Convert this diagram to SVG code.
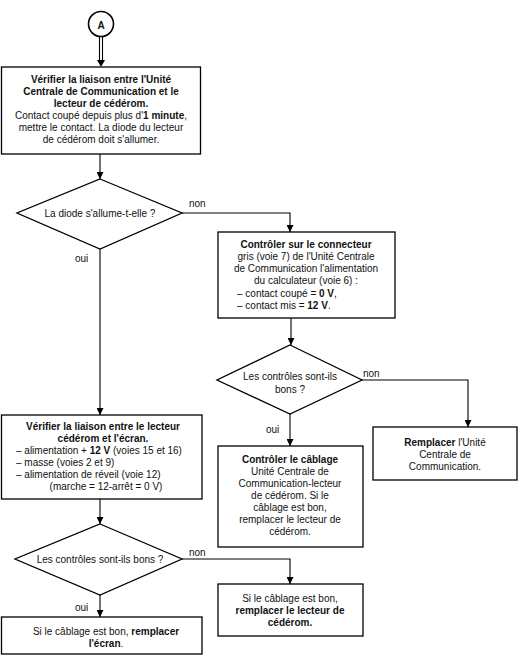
<svg xmlns="http://www.w3.org/2000/svg" width="521" height="665" viewBox="0 0 521 665">
<defs>
<marker id="arr" viewBox="0 0 8 8" refX="8" refY="4" markerWidth="7" markerHeight="7" markerUnits="userSpaceOnUse" orient="auto">
<path d="M0,0 L8,4 L0,8 z" fill="#000"/>
</marker>
<style>
.box{fill:#fff;stroke:#000;stroke-width:1.3}
.ln{fill:none;stroke:#000;stroke-width:1.1}
text{font-family:"Liberation Sans",Arial,sans-serif;font-size:10px;fill:#111}
.c{text-anchor:middle}
.b{font-weight:bold}
</style>
</defs>
<rect width="521" height="665" fill="#fff"/>
<g id="connectors">
<line class="ln" x1="99.5" y1="37" x2="99.5" y2="61"/>
<line class="ln" x1="102.5" y1="37" x2="102.5" y2="61"/>
<path d="M97,60 L105,60 L101,67 z" fill="#000"/>
<line class="ln" x1="100" y1="154" x2="100" y2="179" marker-end="url(#arr)"/>
<polyline class="ln" points="182,213 290,213 290,232" marker-end="url(#arr)"/>
<line class="ln" x1="100" y1="249" x2="100" y2="415" marker-end="url(#arr)"/>
<line class="ln" x1="291" y1="318" x2="291" y2="345" marker-end="url(#arr)"/>
<polyline class="ln" points="362,380 468,380 468,427" marker-end="url(#arr)"/>
<line class="ln" x1="290" y1="414" x2="290" y2="446" marker-end="url(#arr)"/>
<line class="ln" x1="100" y1="499" x2="100" y2="524" marker-end="url(#arr)"/>
<polyline class="ln" points="182,559 290,559 290,584" marker-end="url(#arr)"/>
<line class="ln" x1="100" y1="595" x2="100" y2="617" marker-end="url(#arr)"/>
<text x="189" y="207">non</text>
<text x="75" y="262">oui</text>
<text x="363" y="377">non</text>
<text x="266" y="433">oui</text>
<text x="189" y="556">non</text>
<text x="75" y="611">oui</text>
</g>
<g id="nodeA">
<circle cx="101" cy="24" r="12.5" fill="#fff" stroke="#000" stroke-width="1.6"/>
<text x="101" y="29" class="c b" font-size="13">A</text>
</g>
<g id="box1">
<rect class="box" x="1.5" y="67" width="199" height="87"/>
<text x="101" y="83" class="c b">Vérifier la liaison entre l'Unité</text>
<text x="101" y="95" class="c b">Centrale de Communication et le</text>
<text x="101" y="107" class="c b">lecteur de cédérom.</text>
<text x="101" y="119" class="c">Contact coupé depuis plus d'<tspan class="b">1 minute</tspan>,</text>
<text x="101" y="131" class="c">mettre le contact. La diode du lecteur</text>
<text x="101" y="143" class="c">de cédérom doit s'allumer.</text>
</g>
<g id="diamond1">
<polygon class="box" points="100,179 182,213 100,249 17,213"/>
<text x="100" y="217" class="c">La diode s'allume-t-elle ?</text>
</g>
<g id="box2">
<rect class="box" x="218" y="232" width="177" height="86"/>
<text x="306" y="248" class="c b">Contrôler sur le connecteur</text>
<text x="306" y="260" class="c">gris (voie 7) de l'Unité Centrale</text>
<text x="306" y="272" class="c">de Communication l'alimentation</text>
<text x="306" y="284" class="c">du calculateur (voie 6) :</text>
<text x="237" y="297">– contact coupé = <tspan class="b">0 V</tspan>,</text>
<text x="237" y="309">– contact mis = <tspan class="b">12 V</tspan>.</text>
</g>
<g id="diamond2">
<polygon class="box" points="290,345 362,380 290,414 217,380"/>
<text x="290" y="380" class="c">Les contrôles sont-ils</text>
<text x="290" y="393" class="c">bons ?</text>
</g>
<g id="box3">
<rect class="box" x="373" y="427" width="144" height="53"/>
<text x="445" y="446" class="c"><tspan class="b">Remplacer</tspan> l'Unité</text>
<text x="445" y="458" class="c">Centrale de</text>
<text x="445" y="470" class="c">Communication.</text>
</g>
<g id="box4">
<rect class="box" x="218" y="446" width="145" height="101"/>
<text x="290" y="463" class="c b">Contrôler le câblage</text>
<text x="290" y="475" class="c">Unité Centrale de</text>
<text x="290" y="487" class="c">Communication-lecteur</text>
<text x="290" y="499" class="c">de cédérom. Si le</text>
<text x="290" y="511" class="c">câblage est bon,</text>
<text x="290" y="523" class="c">remplacer le lecteur de</text>
<text x="290" y="535" class="c">cédérom.</text>
</g>
<g id="box5">
<rect class="box" x="1.5" y="415" width="200.5" height="84"/>
<text x="103" y="430" class="c b">Vérifier la liaison entre le lecteur</text>
<text x="103" y="442" class="c b">cédérom et l'écran.</text>
<text x="16" y="454">– alimentation + <tspan class="b">12 V</tspan> (voies 15 et 16)</text>
<text x="16" y="466">– masse (voies 2 et 9)</text>
<text x="16" y="478">– alimentation de réveil (voie 12)</text>
<text x="106" y="490" class="c">(marche = 12-arrêt = 0 V)</text>
</g>
<g id="diamond3">
<polygon class="box" points="100,524 182,559 100,595 15,559"/>
<text x="100" y="563" class="c">Les contrôles sont-ils bons ?</text>
</g>
<g id="box6">
<rect class="box" x="218" y="584" width="145" height="52"/>
<text x="290" y="602" class="c">Si le câblage est bon,</text>
<text x="290" y="614" class="c b">remplacer le lecteur de</text>
<text x="290" y="626" class="c b">cédérom.</text>
</g>
<g id="box7">
<rect class="box" x="1.5" y="617" width="200.5" height="37"/>
<text x="106" y="635" class="c">Si le câblage est bon, <tspan class="b">remplacer</tspan></text>
<text x="106" y="647" class="c b">l'écran<tspan font-weight="normal">.</tspan></text>
</g>
</svg>
